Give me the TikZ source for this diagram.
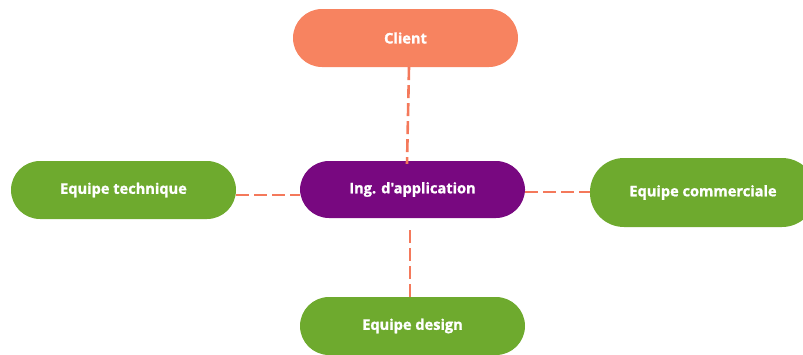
\documentclass[tikz,border=0pt]{standalone}
\usepackage{fontspec}
\newfontfamily\lbl{Open Sans}[BoldFeatures={FakeBold=1.2}]
\definecolor{coral}{RGB}{247,131,96}
\definecolor{lnk}{RGB}{244,121,91}
\definecolor{grn}{RGB}{110,170,46}
\definecolor{prp}{RGB}{120,8,128}
\begin{document}
\begin{tikzpicture}[x=1pt,y=-1pt,
  pill/.style={rectangle, rounded corners=#1, minimum width=225pt, text=white,
    font=\lbl\bfseries\fontsize{14.6}{16}\selectfont, inner sep=0pt},
  pill/.default=29pt,
  link/.style={draw=lnk, line width=2.6pt, dash pattern=on 13pt off 5pt}]
\useasboundingbox (0,0) rectangle (803,354);
\node[pill, fill=coral, minimum height=58pt] (client) at (405.5,38) {Client};
\node[pill, fill=prp, minimum height=57pt] (ing) at (412.5,189.5) {Ing. d'application};
\node[pill, fill=grn, minimum height=58pt] (tech) at (123.5,190) {Equipe technique};
\node[pill=34pt, fill=grn, minimum height=69pt, minimum width=226pt] (comm) at (703,192.5) {Equipe commerciale};
\node[pill, fill=grn, minimum height=58pt] (design) at (412.5,326) {Equipe design};
\coordinate (c1) at (client.south -| 409,0);
\coordinate (c2) at ([yshift=-3pt]ing.north -| 407,0);
\draw[link] (c1) -- (c2);
\coordinate (t1) at (tech.east |- 0,195);
\coordinate (t2) at (ing.west |- 0,195);
\draw[link] (t1) -- (t2);
\coordinate (m1) at (ing.east |- 0,192);
\coordinate (m2) at (comm.west |- 0,192);
\draw[link] (m1) -- (m2);
\coordinate (d1) at (410,230);
\coordinate (d2) at (design.north -| 410,0);
\draw[link] (d1) -- (d2);
\end{tikzpicture}
\end{document}
